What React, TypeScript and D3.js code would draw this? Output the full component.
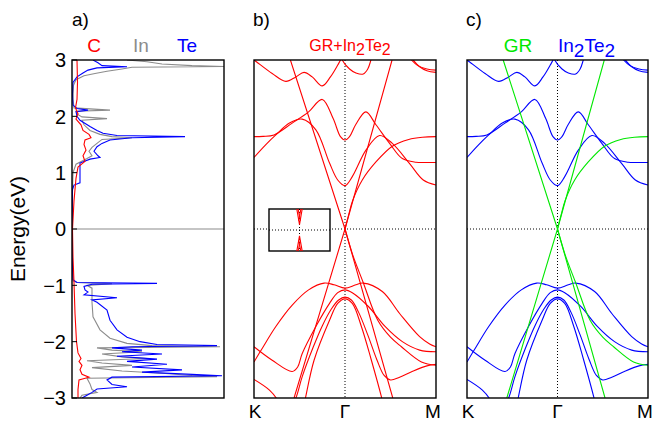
import React from 'react'
import * as d3 from 'd3'

type Pt = [number, number]

// energy axis
const energyTicks = [-3, -2, -1, 0, 1, 2, 3]
const kPoints: [number, string][] = [[-1, 'K'], [0, 'Γ'], [1, 'M']]

// ---- DOS, [E (eV), states] ----
const dosC: Pt[] = [
  [3.0, 0.5], [2.6, 0.55], [2.3, 0.5], [2.15, 0.35], [2.05, 0.6], [1.95, 0.4], [1.85, 0.9], [1.75, 1.1],
  [1.68, 1.7], [1.62, 1.9], [1.58, 1.3], [1.5, 1.2], [1.4, 1.4], [1.3, 1.1], [1.2, 1.3], [1.1, 0.6],
  [0.9, 0.4], [0.5, 0.2], [0.0, 0.05], [-0.5, 0.1], [-0.95, 0.2], [-1.5, 0.3], [-2.0, 0.45], [-2.2, 0.6],
  [-2.3, 0.9], [-2.35, 0.7], [-2.42, 1.0], [-2.5, 0.8], [-2.58, 1.0], [-2.63, 1.7], [-2.68, 0.7],
  [-2.85, 0.6], [-3.0, 0.6],
]
const dosIn: Pt[] = [
  [3.0, 5.5], [2.97, 7.5], [2.93, 9.0], [2.9, 12.0], [2.885, 15.2], [2.87, 6.0], [2.84, 5.0], [2.8, 3.5],
  [2.76, 2.3], [2.72, 1.2], [2.65, 0.4], [2.55, 0.15], [2.3, 0.1], [2.15, 0.2], [2.11, 3.8], [2.09, 0.4],
  [2.03, 0.6], [1.99, 1.0], [1.96, 3.5], [1.93, 1.0], [1.85, 1.2], [1.75, 1.8], [1.68, 2.8], [1.64, 4.0],
  [1.62, 6.0], [1.59, 3.0], [1.52, 2.5], [1.45, 2.0], [1.38, 1.7], [1.3, 2.0], [1.25, 1.5], [1.15, 0.4],
  [1.0, 0.1], [0.5, 0.02], [0.0, 0.0], [-0.5, 0.02], [-0.92, 0.1], [-0.95, 0.5], [-0.97, 4.0], [-1.0, 1.5],
  [-1.05, 2.0], [-1.08, 2.0], [-1.3, 2.0], [-1.56, 2.1], [-1.79, 2.8], [-1.94, 3.8], [-2.03, 5.5],
  [-2.07, 8.0], [-2.09, 14.8], [-2.11, 2.5], [-2.15, 4.0], [-2.18, 7.0], [-2.22, 3.0], [-2.27, 5.0],
  [-2.3, 7.5], [-2.34, 1.5], [-2.38, 3.0], [-2.42, 6.0], [-2.46, 2.0], [-2.52, 5.0], [-2.56, 9.0],
  [-2.6, 12.0], [-2.62, 14.5], [-2.65, 1.5], [-2.75, 1.8], [-2.85, 2.0], [-2.9, 2.5], [-2.95, 1.0], [-3.0, 0.8],
]
const dosTe: Pt[] = [
  [3.0, 2.1], [2.95, 2.6], [2.9, 3.0], [2.88, 5.5], [2.86, 2.5], [2.82, 1.6], [2.77, 1.1], [2.7, 0.5],
  [2.6, 0.1], [2.4, 0.05], [2.2, 0.1], [2.14, 0.5], [2.11, 1.6], [2.08, 0.4], [2.0, 0.5], [1.93, 0.8],
  [1.82, 1.8], [1.75, 2.5], [1.7, 3.1], [1.66, 4.5], [1.64, 11.3], [1.62, 6.0], [1.58, 3.8], [1.52, 3.0],
  [1.46, 2.5], [1.38, 2.2], [1.3, 2.6], [1.27, 2.8], [1.24, 1.8], [1.17, 0.8], [1.0, 0.8], [0.82, 0.8],
  [0.78, 0.2], [0.7, 0.05], [0.3, 0.02], [0.0, 0.0], [-0.5, 0.02], [-0.9, 0.1], [-0.95, 0.5], [-0.965, 8.5],
  [-0.98, 2.0], [-1.02, 1.2], [-1.08, 1.3], [-1.12, 1.6], [-1.17, 1.2], [-1.22, 4.5], [-1.26, 2.0],
  [-1.3, 2.5], [-1.44, 3.5], [-1.62, 3.8], [-1.79, 4.5], [-1.92, 5.5], [-2.0, 6.8], [-2.05, 8.5],
  [-2.07, 14.5], [-2.09, 6.0], [-2.11, 4.0], [-2.15, 7.0], [-2.18, 5.0],
  [-2.22, 9.0], [-2.26, 4.5], [-2.31, 8.5], [-2.35, 5.5], [-2.4, 9.5], [-2.45, 6.0], [-2.5, 11.0],
  [-2.54, 7.0], [-2.58, 12.0], [-2.605, 15.0], [-2.63, 4.0], [-2.68, 3.5], [-2.76, 4.0], [-2.8, 5.5],
  [-2.84, 2.5], [-2.9, 2.0], [-2.95, 1.5], [-3.0, 1.0],
]

// ---- In2Te2 bands, [k, E] with K=-1, Γ=0, M=1 ----
const cbTop1: Pt[] = [[-1.02, 3.02], [-1, 3.0], [-0.8, 2.76], [-0.65, 2.62], [-0.54, 2.7], [-0.45, 2.78], [-0.36, 2.7], [-0.25, 2.54], [-0.16, 2.7], [-0.08, 2.91], [-0.05, 3.0], [-0.02, 3.15]]
const cbTop2: Pt[] = [[-0.06, 3.25], [-0.03, 3.0], [0.05, 2.84], [0.12, 2.77], [0.2, 2.75], [0.25, 2.84], [0.285, 3.0], [0.32, 3.2]]
const cbTop3: Pt[] = [[0.68, 3.15], [0.75, 3.0], [0.82, 2.88], [0.9, 2.81], [1, 2.78]]
const cbTop4: Pt[] = [[0.66, 3.15], [0.73, 3.0], [0.8, 2.9], [0.9, 2.84], [1, 2.82]]
const cbA: Pt[] = [[-1.02, 1.64], [-0.9, 1.645], [-0.78, 1.67], [-0.58, 1.88], [-0.4, 2.08], [-0.25, 2.3], [-0.13, 1.96], [-0.05, 1.64], [0, 1.58], [0.05, 1.64], [0.12, 1.86], [0.23, 2.08], [0.34, 1.85], [0.49, 1.52], [0.63, 1.25], [0.78, 1.185], [0.9, 1.18], [1.02, 1.18]]
const cbB: Pt[] = [[-1, 1.27], [-0.875, 1.49], [-0.76, 1.67], [-0.61, 1.88], [-0.47, 1.95], [-0.32, 1.76], [-0.17, 1.17], [-0.08, 0.87], [0, 0.77], [0.08, 0.93], [0.23, 1.4], [0.38, 1.66], [0.52, 1.52], [0.71, 1.16], [0.86, 0.87], [1, 0.78]]
const vb1: Pt[] = [[-1, -2.36], [-0.91, -2.12], [-0.76, -1.73], [-0.58, -1.35], [-0.4, -1.08], [-0.23, -0.96], [-0.12, -0.99], [0, -1.05], [0.12, -0.99], [0.2, -0.96], [0.41, -1.11], [0.6, -1.5], [0.82, -1.91], [0.93, -2.04], [1, -2.09]]
const vb2: Pt[] = [[-1, -2.09], [-0.8, -2.33], [-0.58, -2.53], [-0.52, -2.45], [-0.47, -2.21], [-0.32, -1.73], [-0.17, -1.32], [-0.08, -1.13], [0, -1.08], [0.08, -1.13], [0.26, -1.38], [0.44, -1.73], [0.63, -2.0], [0.82, -2.15], [1, -2.18]]
const vb3: Pt[] = [[-0.62, -3.25], [-0.54, -3.0], [-0.47, -2.62], [-0.35, -2.1], [-0.25, -1.72], [-0.15, -1.42], [-0.07, -1.26], [0, -1.21], [0.07, -1.26], [0.15, -1.48], [0.25, -1.88], [0.35, -2.32], [0.43, -2.6], [0.5, -2.68], [0.6, -2.63], [0.75, -2.52], [0.9, -2.43], [1, -2.4]]
const vb4: Pt[] = [[-0.47, -3.25], [-0.44, -3.04], [-0.34, -2.33], [-0.17, -1.62], [-0.08, -1.32], [0, -1.24], [0.08, -1.32], [0.18, -1.73], [0.29, -2.33], [0.41, -3.04], [0.44, -3.25]]
const vb5: Pt[] = [[-1, -2.67], [-0.83, -2.86], [-0.74, -3.04], [-0.7, -3.2]]
const in2te2Bands = [cbTop1, cbTop2, cbTop3, cbTop4, cbA, cbB, vb1, vb2, vb3, vb4, vb5]

// ---- graphene bands ----
const grLine1: Pt[] = [[-0.6, 3], [0, 0], [0.525, -3]]
const grLine2: Pt[] = [[-0.56, -3], [0, 0], [0.517, 3]]
const grFoldUp: Pt[] = [[0, 0], [0.04, 0.25], [0.083, 0.5], [0.19, 0.87], [0.34, 1.19], [0.52, 1.47], [0.7, 1.59], [0.85, 1.63], [1, 1.64]]
const grFoldDown: Pt[] = [[0, 0], [0.083, -0.45], [0.2, -0.95], [0.36, -1.62], [0.5, -1.92], [0.62, -2.09], [0.84, -2.36], [1, -2.42]]

// ---- inset (gap at Γ), arbitrary units ----
const insetUp1: Pt[] = [[-0.1, 1.1], [0, 0.25], [0.1, 1.1]]
const insetUp2: Pt[] = [[-0.06, 1.1], [0.03, 0.45]]
const insetUp3: Pt[] = [[0.06, 1.1], [-0.03, 0.45]]
const insetDn1: Pt[] = [[-0.1, -1.1], [0, -0.28], [0.1, -1.1]]
const insetDn2: Pt[] = [[-0.06, -1.1], [0.03, -0.5]]
const insetDn3: Pt[] = [[0.06, -1.1], [-0.03, -0.5]]

const RED = '#ff0000'
const BLUE = '#0000ff'
const GREEN = '#00e800'
const GRAY = '#8c8c8c'
const FONT = "'Liberation Sans', Arial, sans-serif"

export default function App() {
  const top = 60
  const bottom = 398
  const y = d3.scaleLinear().domain([-3, 3]).range([bottom, top])
  const xDos = d3.scaleLinear().domain([0, 15.2]).range([72, 224])
  const xB = d3.scaleLinear().domain([-1, 1]).range([254, 436])
  const xC = d3.scaleLinear().domain([-1, 1]).range([467, 648])
  const xi = d3.scaleLinear().domain([-1, 1]).range([269, 330])
  const yi = d3.scaleLinear().domain([-1, 1]).range([251, 209])

  const dosLine = d3.line<Pt>().x(d => xDos(d[1])).y(d => y(d[0]))
  const smooth = (xs: d3.ScaleLinear<number, number>) =>
    d3.line<Pt>().x(d => xs(d[0])).y(d => y(d[1])).curve(d3.curveCatmullRom.alpha(0.5))
  const straight = (xs: d3.ScaleLinear<number, number>) =>
    d3.line<Pt>().x(d => xs(d[0])).y(d => y(d[1]))
  const insetLine = d3.line<Pt>().x(d => xi(d[0])).y(d => yi(d[1]))

  const bandPanel = (xs: d3.ScaleLinear<number, number>, id: string, bandColor: string, grColor: string) => {
    const [x0, x1] = xs.range()
    const sm = smooth(xs)
    const st = straight(xs)
    return (
      <g>
        <defs>
          <clipPath id={id}>
            <rect x={x0} y={top} width={x1 - x0} height={bottom - top} />
          </clipPath>
        </defs>
        <line x1={x0} x2={x1} y1={y(0)} y2={y(0)} stroke="#000" strokeWidth={1} strokeDasharray="1,2" />
        <line x1={xs(0)} x2={xs(0)} y1={top} y2={bottom} stroke="#000" strokeWidth={1} strokeDasharray="1,2" />
        <g clipPath={`url(#${id})`}>
          {in2te2Bands.map((b, i) => <path key={i} d={sm(b) || ''} fill="none" stroke={bandColor} strokeWidth={1.1} />)}
          {[grLine1, grLine2].map((b, i) => <path key={'l' + i} d={st(b) || ''} fill="none" stroke={grColor} strokeWidth={1.1} />)}
          {[grFoldUp, grFoldDown].map((b, i) => <path key={'f' + i} d={sm(b) || ''} fill="none" stroke={grColor} strokeWidth={1.1} />)}
        </g>
        <rect x={x0} y={top} width={x1 - x0} height={bottom - top} fill="none" stroke="#000" strokeWidth={1.4} />
        {kPoints.map(([k, lab]) => (
          <text key={lab} x={xs(k) + (k === 1 ? -3 : k === -1 ? 1 : 0)} y={418} textAnchor="middle" fontSize={19}>{lab}</text>
        ))}
      </g>
    )
  }

  return (
    <svg width={662} height={424} style={{ position: 'absolute', left: 0, top: 0, background: '#fff' }} fontFamily={FONT}>
      {/* panel a: DOS */}
      <defs>
        <clipPath id="clipA">
          <rect x={72} y={top} width={152} height={bottom - top} />
        </clipPath>
      </defs>
      <g clipPath="url(#clipA)">
        <line x1={72} x2={224} y1={y(0)} y2={y(0)} stroke={GRAY} strokeWidth={1.2} />
        <path d={dosLine(dosIn) || ''} fill="none" stroke={GRAY} strokeWidth={1.1} />
        <path d={dosLine(dosTe) || ''} fill="none" stroke={BLUE} strokeWidth={1.1} />
        <path d={dosLine(dosC) || ''} fill="none" stroke={RED} strokeWidth={1.1} />
      </g>
      <rect x={72} y={top} width={152} height={bottom - top} fill="none" stroke="#000" strokeWidth={1.4} />
      {energyTicks.map(t => (
        <g key={t}>
          <line x1={72} x2={77} y1={y(t)} y2={y(t)} stroke="#000" strokeWidth={1} />
          <text x={66} y={y(t)} dy="0.36em" textAnchor="end" fontSize={20}>{t < 0 ? '−' + Math.abs(t) : t}</text>
        </g>
      ))}
      <text transform={`translate(25,${y(0)}) rotate(-90)`} textAnchor="middle" fontSize={21}>Energy(eV)</text>
      <text x={72} y={26} fontSize={19}>a)</text>
      <text x={94} y={52} textAnchor="middle" fontSize={19} fill={RED}>C</text>
      <text x={141} y={52} textAnchor="middle" fontSize={19} fill={GRAY}>In</text>
      <text x={187} y={52} textAnchor="middle" fontSize={19} fill={BLUE}>Te</text>

      {/* panel b: GR + In2Te2 */}
      {bandPanel(xB, 'clipB', RED, RED)}
      <text x={253} y={26} fontSize={19}>b)</text>
      <text x={350} y={51} textAnchor="middle" fontSize={16} fill={RED}>
        GR+In<tspan dy={4}>2</tspan><tspan dy={-4}>Te</tspan><tspan dy={4}>2</tspan>
      </text>
      <g>
        <rect x={xi(-1)} y={yi(1)} width={xi(1) - xi(-1)} height={yi(-1) - yi(1)} fill="#fff" stroke="#000" strokeWidth={1.4} />
        <line x1={xi(-1)} x2={xi(1)} y1={yi(0)} y2={yi(0)} stroke="#000" strokeWidth={1} strokeDasharray="1,2" />
        <line x1={xi(0)} x2={xi(0)} y1={yi(1)} y2={yi(-1)} stroke="#000" strokeWidth={1} strokeDasharray="1,2" />
        <defs>
          <clipPath id="clipI">
            <rect x={xi(-1)} y={yi(1)} width={xi(1) - xi(-1)} height={yi(-1) - yi(1)} />
          </clipPath>
        </defs>
        <g clipPath="url(#clipI)">
          {[insetUp1, insetUp2, insetUp3, insetDn1, insetDn2, insetDn3].map((b, i) => (
            <path key={i} d={insetLine(b) || ''} fill="none" stroke={RED} strokeWidth={1.1} />
          ))}
        </g>
      </g>

      {/* panel c: GR and In2Te2 separately */}
      {bandPanel(xC, 'clipC', BLUE, GREEN)}
      <text x={466} y={26} fontSize={19}>c)</text>
      <text x={518} y={52} textAnchor="middle" fontSize={19} fill={GREEN}>GR</text>
      <text x={558} y={52} fontSize={19} fill={BLUE}>
        In<tspan dy={5}>2</tspan><tspan dy={-5}>Te</tspan><tspan dy={5}>2</tspan>
      </text>
    </svg>
  )
}
